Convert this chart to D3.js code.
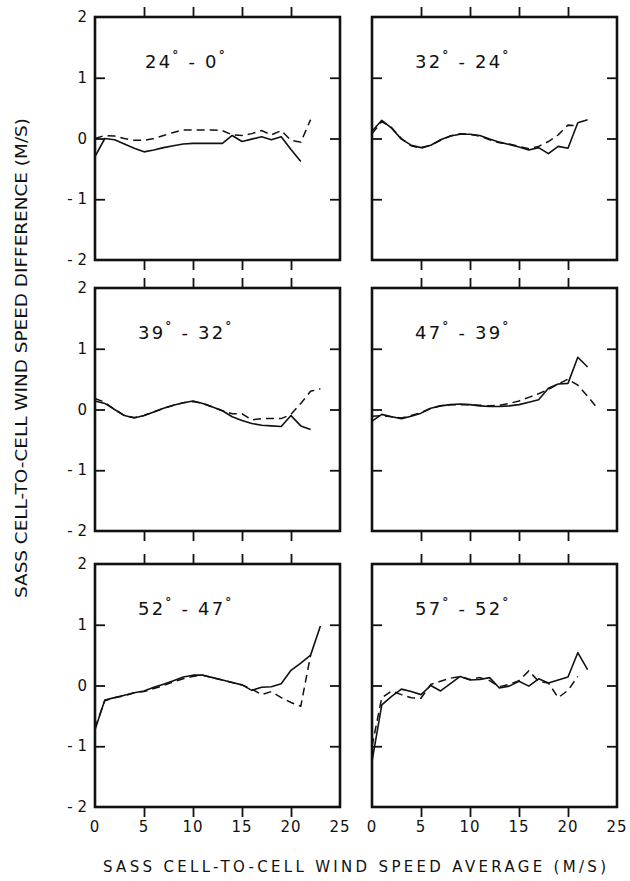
<!DOCTYPE html>
<html>
<head>
  <meta charset="utf-8">
  <title>SASS cell-to-cell wind speed difference</title>
  <script src="https://d3js.org/d3.v7.min.js"></script>
  <style>
    body { margin: 0; background: #fff; }
    svg text { font-family: "DejaVu Sans", sans-serif; fill: #111; }
  </style>
</head>
<body>
  <div id="chart"></div>

  <script>
    // latitude bands, one panel each (left to right, top to bottom)
    var bands = [["24", "0"], ["32", "24"], ["39", "32"], ["47", "39"], ["52", "47"], ["57", "52"]];

    // wind speed average (m/s) at which values are read, 0..23
    var speeds = d3.range(0, 24);

    // solid curves, one array per band
    var solid24_0  = [-0.3, 0.0, -0.02, -0.09, -0.16, -0.22, -0.19, -0.15, -0.12, -0.09, -0.08, -0.08, -0.08, -0.08, 0.05, -0.05, -0.01, 0.03, -0.02, 0.03, -0.18, -0.38];
    var solid32_24 = [0.12, 0.3, 0.17, -0.01, -0.11, -0.15, -0.11, -0.02, 0.04, 0.07, 0.07, 0.05, -0.01, -0.06, -0.1, -0.14, -0.19, -0.15, -0.25, -0.13, -0.16, 0.26, 0.31];
    var solid39_32 = [0.14, 0.1, 0.0, -0.1, -0.14, -0.1, -0.04, 0.02, 0.07, 0.11, 0.14, 0.1, 0.04, -0.02, -0.12, -0.18, -0.23, -0.26, -0.27, -0.28, -0.1, -0.27, -0.33];
    var solid47_39 = [-0.19, -0.08, -0.12, -0.15, -0.11, -0.06, 0.02, 0.06, 0.08, 0.09, 0.08, 0.06, 0.05, 0.05, 0.06, 0.08, 0.12, 0.16, 0.35, 0.42, 0.43, 0.86, 0.7];
    var solid52_47 = [-0.73, -0.24, -0.2, -0.16, -0.12, -0.09, -0.03, 0.02, 0.08, 0.14, 0.17, 0.17, 0.13, 0.09, 0.05, 0.01, -0.08, -0.03, -0.02, 0.03, 0.25, 0.37, 0.5, 0.98];
    var solid57_52 = [-1.25, -0.32, -0.18, -0.06, -0.1, -0.15, 0.0, -0.09, 0.03, 0.15, 0.09, 0.1, 0.13, -0.04, -0.01, 0.07, -0.01, 0.11, 0.04, 0.09, 0.14, 0.54, 0.26];

    // dashed curves
    var dash24_0  = [0.0, 0.05, 0.04, 0.0, -0.03, -0.03, 0.0, 0.05, 0.1, 0.14, 0.14, 0.14, 0.14, 0.13, 0.06, 0.05, 0.08, 0.13, 0.06, 0.13, -0.03, -0.06, 0.31];
    var dash32_24 = [0.08, 0.28, 0.18, 0.0, -0.12, -0.16, -0.11, -0.03, 0.04, 0.08, 0.07, 0.04, -0.02, -0.07, -0.09, -0.13, -0.17, -0.13, -0.05, 0.06, 0.22, 0.21];
    var dash39_32 = [0.18, 0.12, 0.0, -0.1, -0.13, -0.1, -0.04, 0.02, 0.07, 0.11, 0.13, 0.1, 0.04, -0.02, -0.07, -0.07, -0.17, -0.15, -0.15, -0.15, -0.08, 0.1, 0.3, 0.34];
    var dash47_39 = [-0.11, -0.1, -0.12, -0.14, -0.1, -0.05, 0.02, 0.06, 0.08, 0.08, 0.08, 0.07, 0.06, 0.07, 0.1, 0.14, 0.2, 0.26, 0.33, 0.42, 0.5, 0.4, 0.22, 0.02];
    var dash52_47 = [-0.7, -0.25, -0.2, -0.17, -0.12, -0.1, -0.05, 0.0, 0.06, 0.11, 0.15, 0.17, 0.13, 0.09, 0.05, 0.01, -0.06, -0.15, -0.1, -0.2, -0.28, -0.34, 0.5];
    var dash57_52 = [-1.0, -0.2, -0.09, -0.15, -0.2, -0.21, 0.02, 0.07, 0.12, 0.15, 0.1, 0.13, 0.08, -0.02, 0.02, 0.08, 0.24, 0.07, 0.04, -0.2, -0.08, 0.15];

    var solidSeries = [solid24_0, solid32_24, solid39_32, solid47_39, solid52_47, solid57_52];
    var dashSeries  = [dash24_0, dash32_24, dash39_32, dash47_39, dash52_47, dash57_52];

    // tick values and labels
    var xTicks = [0, 5, 10, 15, 20, 25];
    var yTicks = [-2, -1, 0, 1, 2];
    var yTickLabels = ["- 2", "- 1", "0", "1", "2"];

    var xTitle = "SASS CELL-TO-CELL WIND SPEED AVERAGE (M/S)";
    var yTitle = "SASS CELL-TO-CELL WIND SPEED DIFFERENCE (M/S)";

    // layout
    var width = 630, height = 881;
    var colLeft = [95, 372];
    var rowTop = [17, 288, 564];
    var panelW = 245, panelH = 243;
    var tickLen = 10;

    var svg = d3.select("#chart")
      .append("svg")
      .attr("width", width)
      .attr("height", height);

    bands.forEach(function(band, i) {
      var col = i % 2, row = Math.floor(i / 2);
      var x = d3.scaleLinear().domain([0, 25]).range([0, panelW]);
      var y = d3.scaleLinear().domain([-2, 2]).range([panelH, 0]);

      var g = svg.append("g")
        .attr("transform", "translate(" + colLeft[col] + "," + rowTop[row] + ")");

      // inward ticks on all four sides
      var inner = xTicks.filter(function(d) { return d > 0 && d < 25; });
      g.append("g").call(d3.axisTop(x).tickValues(inner).tickSize(-tickLen).tickFormat(""))
        .attr("transform", "translate(0," + panelH + ")");
      g.append("g").call(d3.axisBottom(x).tickValues(inner).tickSize(-tickLen).tickFormat(""));
      var innerY = yTicks.filter(function(d) { return d > -2 && d < 2; });
      g.append("g").call(d3.axisRight(y).tickValues(innerY).tickSize(-tickLen).tickFormat(""))
        .attr("transform", "translate(" + panelW + ",0)");
      g.append("g").call(d3.axisLeft(y).tickValues(innerY).tickSize(-tickLen).tickFormat(""));
      g.selectAll(".domain").remove();
      g.selectAll(".tick line").attr("stroke", "#111").attr("stroke-width", 1.8);

      // frame
      g.append("rect")
        .attr("width", panelW).attr("height", panelH)
        .attr("fill", "none").attr("stroke", "#111").attr("stroke-width", 2.6);

      var line = d3.line()
        .x(function(d, k) { return x(speeds[k]); })
        .y(function(d) { return y(d); });

      g.append("path").datum(dashSeries[i])
        .attr("d", line)
        .attr("fill", "none").attr("stroke", "#111").attr("stroke-width", 1.5)
        .attr("stroke-dasharray", "8,5");
      g.append("path").datum(solidSeries[i])
        .attr("d", line)
        .attr("fill", "none").attr("stroke", "#111").attr("stroke-width", 1.6)
        .attr("stroke-linejoin", "round");

      // band label
      var lab = g.append("text")
        .attr("x", col === 0 && row === 0 ? 50 : 43)
        .attr("y", 51)
        .attr("font-size", 18)
        .attr("letter-spacing", 2.2);
      lab.append("tspan").text(band[0]);
      lab.append("tspan").attr("dy", -9).attr("font-size", 12).attr("font-weight", "bold").text("\u00b0");
      lab.append("tspan").attr("dy", 9).text(" -  " + band[1]);
      lab.append("tspan").attr("dy", -9).attr("font-size", 12).attr("font-weight", "bold").text("\u00b0");

      // tick labels on outer panels
      if (col === 0) {
        g.selectAll(".ylab").data(yTicks).enter().append("text")
          .attr("x", -8)
          .attr("y", function(d) { return y(d) + 5; })
          .attr("text-anchor", "end")
          .attr("font-size", 15)
          .text(function(d, k) { return yTickLabels[k]; });
      }
      if (row === 2) {
        g.selectAll(".xlab").data(xTicks).enter().append("text")
          .attr("x", function(d) { return x(d); })
          .attr("y", panelH + 25)
          .attr("text-anchor", "middle")
          .attr("font-size", 15)
          .attr("letter-spacing", 1)
          .text(function(d) { return d; });
      }
    });

    // axis titles
    svg.append("text")
      .attr("x", 103).attr("y", 872)
      .attr("font-size", 15)
      .attr("textLength", 503)
      .attr("lengthAdjust", "spacing")
      .text(xTitle);

    svg.append("text")
      .attr("transform", "translate(27,598) rotate(-90)")
      .attr("font-size", 16)
      .attr("textLength", 480)
      .attr("lengthAdjust", "spacingAndGlyphs")
      .text(yTitle);
  </script>
</body>
</html>
